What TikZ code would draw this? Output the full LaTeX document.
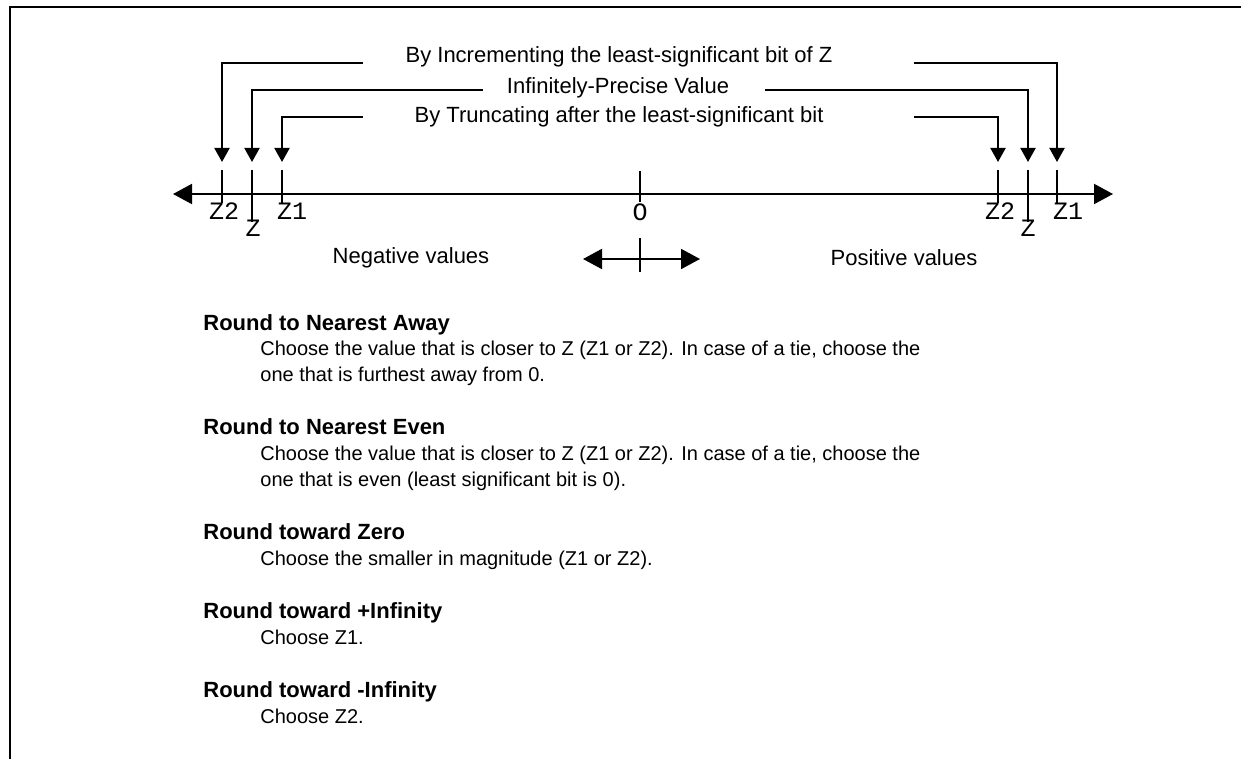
\documentclass[tikz,border=0pt]{standalone}
\usepackage{fontspec}
\setmainfont{Liberation Sans}
\newfontfamily\ptfont{Liberation Mono}
\usetikzlibrary{arrows.meta, positioning}

\begin{document}
\begin{tikzpicture}[
      x=0.5pt, y=-0.5pt,
      lbl/.style={font=\fontsize{11}{13}\selectfont, inner sep=0pt},
      pt/.style={font=\ptfont\fontsize{12.5}{14}\selectfont, inner sep=0pt},
      hd/.style={font=\bfseries\fontsize{11}{13}\selectfont, anchor=base west, inner sep=0pt},
      txt/.style={font=\fontsize{10}{12}\selectfont, anchor=base west, inner sep=0pt},
      ln/.style={line width=1pt},
      ptr/.style={ln, -{Triangle[width=7.5pt, length=7pt]}, shorten >=4pt},
      dbl/.style={ln, {Triangle[width=10pt, length=9.5pt]}-{Triangle[width=10pt, length=9.5pt]}}
    ]
      \useasboundingbox (0,0) rectangle (1241,759);
      % Frame
      \draw[line width=1.2pt] (10,759) -- (10,7) -- (1241,7);

      % Number line
      \coordinate (axL) at (173,194);
      \coordinate (axR) at (1113,194);
      \draw[dbl] (axL) -- (axR);
      \foreach \nm/\x/\lo in {nz2/222/203, nz/252/222, nz1/282/203, pz2/998/203, pz/1028/222, pz1/1057/203} {
        \coordinate (\nm) at (\x,170);
        \draw[ln] (\nm) -- (\x,\lo);
      }
      \node[pt] (lnz2) at (224,211) {Z2};
      \node[pt] (lnz)  at (253,228) {Z};
      \node[pt] (lnz1) at (292,211) {Z1};
      \node[pt] (lpz2) at (1000,211) {Z2};
      \node[pt] (lpz)  at (1028,228) {Z};
      \node[pt] (lpz1) at (1068,211) {Z1};

      % Origin
      \coordinate (org) at (640,171);
      \draw[ln] (org) -- (640,202);
      \node[pt] (lorg) at (640,212) {O};

      % Direction
      \coordinate (dirL) at (583,259);
      \coordinate (dirR) at (700,259);
      \draw[dbl] (dirL) -- (dirR);
      \draw[ln] (640,238) -- (640,272);
      \node[lbl] (neg) at (411,258) {Negative values};
      \node[lbl] (pos) at (904,258) {Positive values};

      % Pointers
      \node[lbl] (incr)  at (619,57)  {By Incrementing the least-significant bit of Z};
      \node[lbl] (infv)  at (618,88)  {Infinitely-Precise Value};
      \node[lbl] (trunc) at (619,117) {By Truncating after the least-significant bit};
      \coordinate (incrL)  at (363,63);
      \coordinate (incrR)  at (914,63);
      \coordinate (infvL)  at (483,90);
      \coordinate (infvR)  at (765,90);
      \coordinate (truncL) at (363,117);
      \coordinate (truncR) at (914,117);
      \draw[ptr] (incrL) -| (nz2);
      \draw[ptr] (incrR) -| (pz1);
      \draw[ptr] (infvL) -| (nz);
      \draw[ptr] (infvR) -| (pz);
      \draw[ptr] (truncL) -| (nz1);
      \draw[ptr] (truncR) -| (pz2);

      % Rounding modes
      \node[hd]  (hAway) at (203,330) {Round to Nearest Away};
      \node[txt] (tAway1) at (260,355) {Choose the value that is closer to Z (Z1 or Z2). In case of a tie, choose the};
      \node[txt] (tAway2) at (260,381) {one that is furthest away from 0.};
      \node[hd]  (hEven) at (203,434) {Round to Nearest Even};
      \node[txt] (tEven1) at (260,460) {Choose the value that is closer to Z (Z1 or Z2). In case of a tie, choose the};
      \node[txt] (tEven2) at (260,486) {one that is even (least significant bit is 0).};
      \node[hd]  (hZero) at (203,539) {Round toward Zero};
      \node[txt] (tZero) at (260,565) {Choose the smaller in magnitude (Z1 or Z2).};
      \node[hd]  (hPinf) at (203,618) {Round toward +Infinity};
      \node[txt] (tPinf) at (260,644) {Choose Z1.};
      \node[hd]  (hNinf) at (203,697) {Round toward -Infinity};
      \node[txt] (tNinf) at (260,723) {Choose Z2.};
    \end{tikzpicture}
\end{document}
